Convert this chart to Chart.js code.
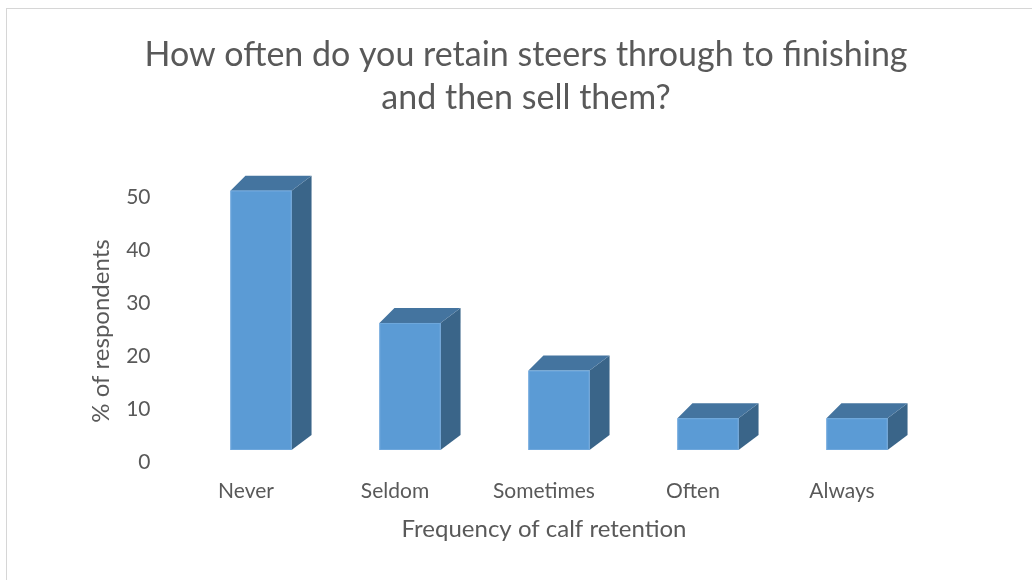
<!DOCTYPE html>
<html>
<head>
<meta charset="utf-8">
<script src="https://cdn.jsdelivr.net/npm/chart.js@4.4.1/dist/chart.umd.min.js"></script>
<style>
  html, body { margin: 0; padding: 0; background: #fff; }
  #wrap { position: relative; width: 1032px; height: 580px; overflow: hidden; }
  #frame { position: absolute; left: 6px; top: 8px; width: 1040px; height: 600px; border-left: 1px solid #d6d6d6; border-top: 1px solid #d6d6d6; }
  canvas { position: absolute; left: 0; top: 0; }
</style>
</head>
<body>
<div id="wrap">
  <div id="frame"></div>
  <canvas id="myChart" width="1032" height="580"></canvas>
</div>
<script>
// data
const categories = ['Never', 'Seldom', 'Sometimes', 'Often', 'Always'];
const percentValues = [49, 24, 15, 6, 6];
const titleLines = ['How often do you retain steers through to finishing', 'and then sell them?'];
const xTitle = 'Frequency of calf retention';
const yTitle = '% of respondents';

const FONT = "Lato, 'Open Sans', sans-serif";
const TEXT = '#595959';

// draws each bar as a 3D box (front, top, side)
const box3d = {
    id: 'box3d',
    afterDatasetsDraw(chart) {
        const c = chart.ctx;
        const meta = chart.getDatasetMeta(0);
        const shift = 15;   // bars sit a bit right of the category label
        const dx = 20, dy = 15;
        meta.data.forEach(bar => {
            const w = bar.width;
            const l = bar.x - w / 2 + shift;
            const r = bar.x + w / 2 + shift;
            const top = bar.y, bottom = bar.base;
            c.save();
            // side
            c.fillStyle = '#3a6589';
            c.beginPath();
            c.moveTo(r, top);
            c.lineTo(r + dx, top - dy);
            c.lineTo(r + dx, bottom - dy);
            c.lineTo(r, bottom);
            c.closePath();
            c.fill();
            // top
            c.fillStyle = '#44749f';
            c.beginPath();
            c.moveTo(l, top);
            c.lineTo(l + 15, top - dy);
            c.lineTo(r + dx, top - dy);
            c.lineTo(r, top);
            c.closePath();
            c.fill();
            // front
            c.fillStyle = '#5b9bd5';
            c.fillRect(l, top, r - l, bottom - top);
            c.strokeStyle = '#6ea7dc';
            c.lineWidth = 1;
            c.strokeRect(l + 0.5, top + 0.5, r - l - 1, bottom - top - 1);
            c.restore();
        });
    }
};

// y axis title, drawn where the reference has it
const yAxisTitle = {
    id: 'yAxisTitle',
    afterDraw(chart) {
        const c = chart.ctx;
        c.save();
        c.translate(101, 331);
        c.rotate(-Math.PI / 2);
        c.font = '24px ' + FONT;
        c.fillStyle = TEXT;
        c.textAlign = 'center';
        c.textBaseline = 'middle';
        c.fillText(yTitle, 0, 0);
        c.restore();
    }
};

const ctx = document.getElementById('myChart').getContext('2d');
new Chart(ctx, {
    type: 'bar',
    data: {
        labels: categories,
        datasets: [{
            data: percentValues,
            backgroundColor: 'rgba(0,0,0,0)',
            barPercentage: 0.41,
            categoryPercentage: 1
        }]
    },
    options: {
        responsive: false,
        animation: false,
        events: [],
        layout: { padding: { left: 20, right: 0, top: 0, bottom: 0 } },
        plugins: {
            legend: { display: false },
            tooltip: { enabled: false },
            title: {
                display: true,
                text: titleLines,
                color: TEXT,
                font: { family: FONT, size: 34, weight: 'normal', lineHeight: 1.27 },
                padding: { top: 33, bottom: 66 }
            }
        },
        scales: {
            x: {
                grid: { display: false, drawTicks: false },
                border: { display: false },
                ticks: { color: TEXT, font: { family: FONT, size: 21 }, padding: 29 },
                title: {
                    display: true,
                    text: xTitle,
                    color: TEXT,
                    font: { family: FONT, size: 24 },
                    padding: { top: 0, bottom: 36 }
                },
                afterFit(scale) { scale.height = 130; }
            },
            y: {
                min: 0,
                max: 50,
                grid: { display: false, drawTicks: false },
                border: { display: false },
                ticks: { stepSize: 10, color: TEXT, font: { family: FONT, size: 21 }, padding: 21, labelOffset: 12 },
                afterFit(scale) { scale.width = 151.5; }
            },
            // empty right-hand axis that only reserves the white margin
            yRight: {
                position: 'right',
                grid: { display: false, drawTicks: false },
                border: { display: false },
                ticks: { display: false },
                afterFit(scale) { scale.width = 115.5; }
            }
        }
    },
    plugins: [box3d, yAxisTitle]
});
</script>
</body>
</html>
